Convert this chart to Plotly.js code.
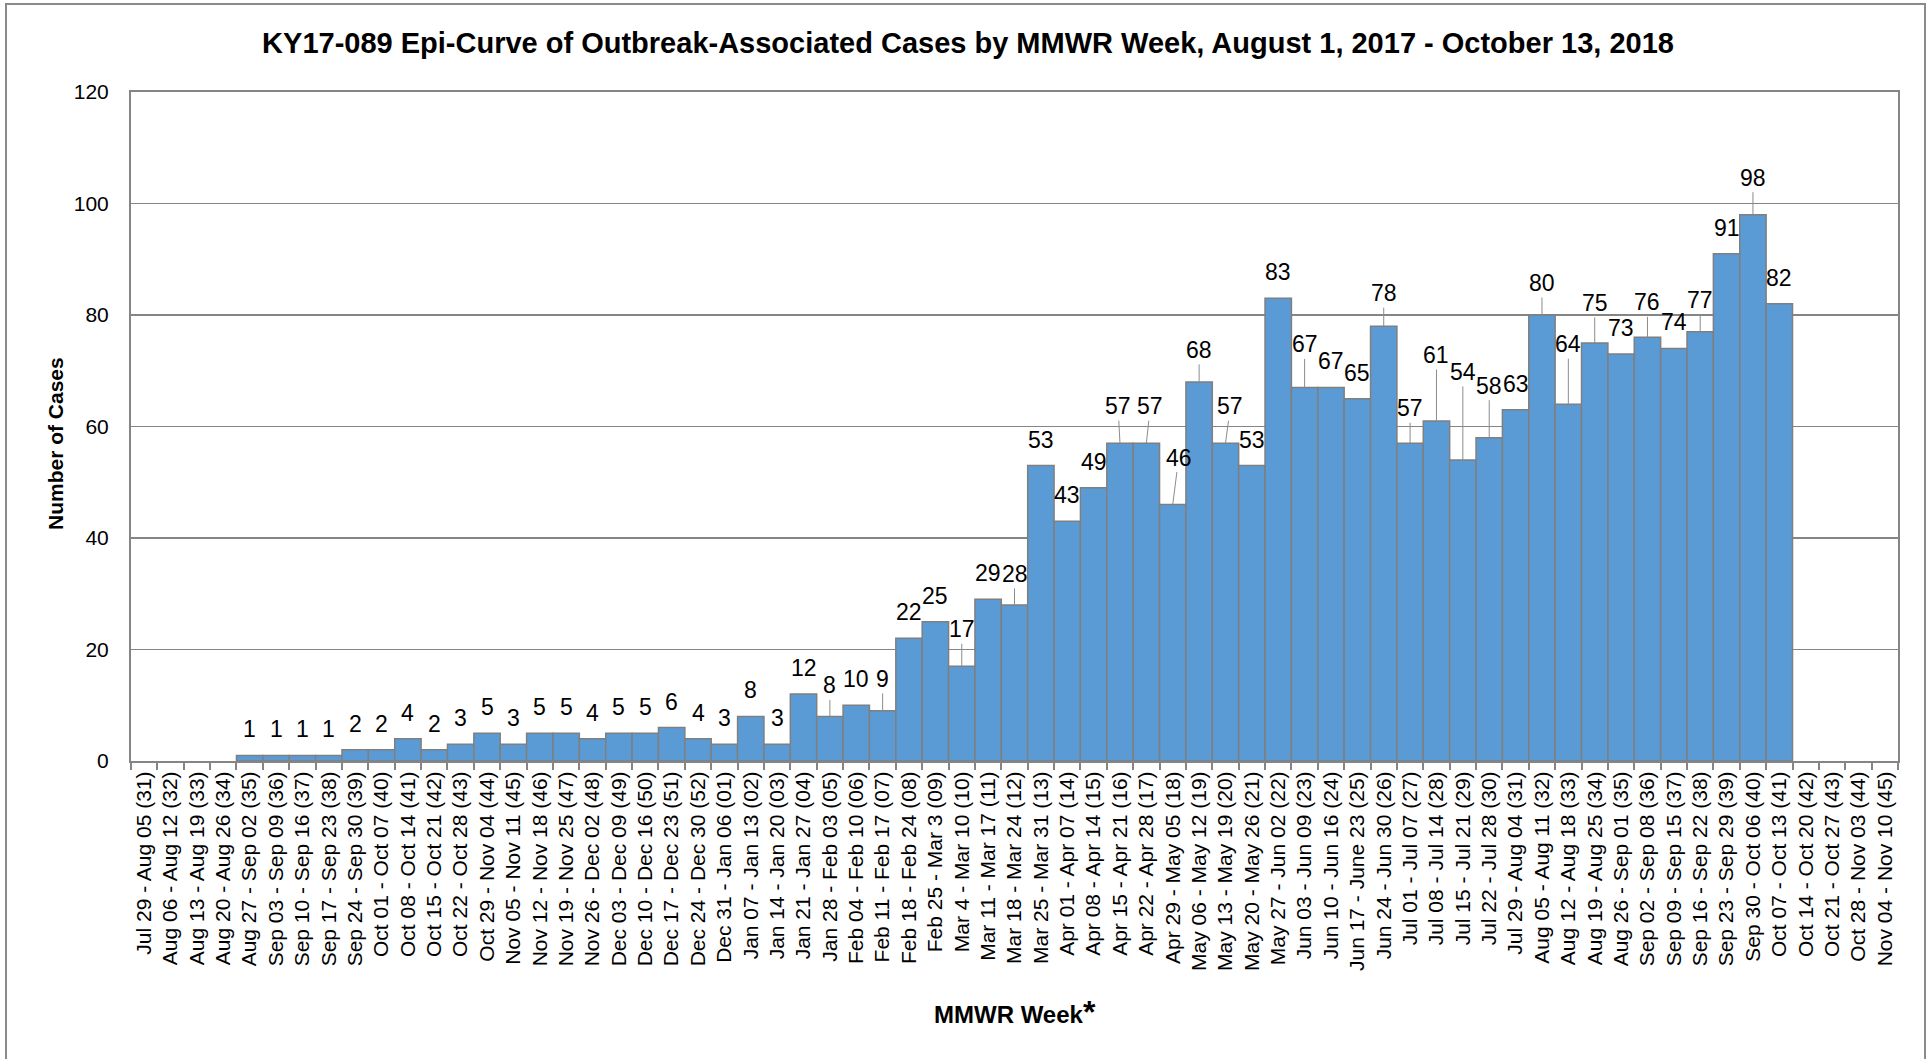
<!DOCTYPE html>
<html>
<head>
<meta charset="utf-8">
<script src="https://cdn.plot.ly/plotly-3.0.1.min.js"></script>
<style>
  html, body { margin: 0; padding: 0; background: #ffffff; }
  #chart { width: 1929px; height: 1059px; }
</style>
</head>
<body>
<div id="chart"></div>
<script>
// ---------------- DATA ----------------
const weekLabels = [
  "Jul 29 - Aug 05 (31)", "Aug 06 - Aug 12 (32)", "Aug 13 - Aug 19 (33)", "Aug 20 - Aug 26 (34)",
  "Aug 27 - Sep 02 (35)", "Sep 03 - Sep 09 (36)", "Sep 10 - Sep 16 (37)", "Sep 17 - Sep 23 (38)",
  "Sep 24 - Sep 30 (39)", "Oct 01 - Oct 07 (40)", "Oct 08 - Oct 14 (41)", "Oct 15 - Oct 21 (42)",
  "Oct 22 - Oct 28 (43)", "Oct 29 - Nov 04 (44)", "Nov 05 - Nov 11 (45)", "Nov 12 - Nov 18 (46)",
  "Nov 19 - Nov 25 (47)", "Nov 26 - Dec 02 (48)", "Dec 03 - Dec 09 (49)", "Dec 10 - Dec 16 (50)",
  "Dec 17 - Dec 23 (51)", "Dec 24 - Dec 30 (52)", "Dec 31 - Jan 06 (01)", "Jan 07 - Jan 13 (02)",
  "Jan 14 - Jan 20 (03)", "Jan 21 - Jan 27 (04)", "Jan 28 - Feb 03 (05)", "Feb 04 - Feb 10 (06)",
  "Feb 11 - Feb 17 (07)", "Feb 18 - Feb 24 (08)", "Feb 25 - Mar 3 (09)", "Mar 4 - Mar 10 (10)",
  "Mar 11 - Mar 17 (11)", "Mar 18 - Mar 24 (12)", "Mar 25 - Mar 31 (13)", "Apr 01 - Apr 07 (14)",
  "Apr 08 - Apr 14 (15)", "Apr 15 - Apr 21 (16)", "Apr 22 - Apr 28 (17)", "Apr 29 - May 05 (18)",
  "May 06 - May 12 (19)", "May 13 - May 19 (20)", "May 20 - May 26 (21)", "May 27 - Jun 02 (22)",
  "Jun 03 - Jun 09 (23)", "Jun 10 - Jun 16 (24)", "Jun 17 - June 23 (25)", "Jun 24 - Jun 30 (26)",
  "Jul 01 - Jul 07 (27)", "Jul 08 - Jul 14 (28)", "Jul 15 - Jul 21 (29)", "Jul 22 - Jul 28 (30)",
  "Jul 29 - Aug 04 (31)", "Aug 05 - Aug 11 (32)", "Aug 12 - Aug 18 (33)", "Aug 19 - Aug 25 (34)",
  "Aug 26 - Sep 01 (35)", "Sep 02 - Sep 08 (36)", "Sep 09 - Sep 15 (37)", "Sep 16 - Sep 22 (38)",
  "Sep 23 - Sep 29 (39)", "Sep 30 - Oct 06 (40)", "Oct 07 - Oct 13 (41)", "Oct 14 - Oct 20 (42)",
  "Oct 21 - Oct 27 (43)", "Oct 28 - Nov 03 (44)", "Nov 04 - Nov 10 (45)"
];

const cases2017 = [null, null, null, null, 1, 1, 1, 1, 2, 2, 4, 2, 3, 5, 3, 5, 5, 4, 5, 5, 6, 4];
const cases2018 = [3, 8, 3, 12, 8, 10, 9, 22, 25, 17, 29, 28, 53, 43, 49, 57, 57, 46, 68, 57,
                   53, 83, 67, 67, 65, 78, 57, 61, 54, 58, 63, 80, 64, 75, 73, 76, 74, 77, 91, 98,
                   82, null, null, null, null];
const cases = cases2017.concat(cases2018);

const yTickValues = [0, 20, 40, 60, 80, 100, 120];

const titleText = "KY17-089 Epi-Curve of Outbreak-Associated Cases by MMWR Week, August 1, 2017 - October 13, 2018";
const xTitleText = "MMWR Week";
const yTitleText = "Number of Cases";

// ---------------- STYLE ----------------
// label lift above bar top (px); entries are labels moved in the original, drawn with leader lines
const defaultLift = 26;
const movedLabels = {
  26: [0, 31], 28: [0, 32], 31: [0, 37], 33: [0, 31], 37: [-2, 37], 38: [4, 37], 39: [6, 47],
  40: [0, 32], 41: [5, 37], 44: [0, 43], 47: [0, 33], 48: [0, 35], 49: [0, 66], 50: [0, 88],
  51: [0, 52], 53: [0, 32], 54: [0, 60], 55: [0, 40], 57: [0, 35], 59: [0, 32], 61: [0, 37]
};

const FONT = "Liberation Sans, Arial, Helvetica, sans-serif";
const W = 1929, H = 1059;
const plotL = 131, plotR = 1898, plotT = 92, plotB = 761;
const grey = "#858585";

const px2x = p => (p - plotL) / (plotR - plotL);
const py2y = p => (plotB - p) / (plotB - plotT);

const annotations = [];
cases.forEach((v, i) => {
  if (v === null) return;
  const moved = movedLabels.hasOwnProperty(i);
  annotations.push({
    x: weekLabels[i], y: v, xref: "x", yref: "y",
    text: String(v),
    showarrow: true, arrowhead: 0, arrowwidth: 1, standoff: 0,
    arrowcolor: moved ? "#8c8c8c" : "rgba(0,0,0,0)",
    ax: moved ? movedLabels[i][0] : 0,
    ay: -(moved ? movedLabels[i][1] : defaultLift),
    font: { family: FONT, size: 23, color: "#000000" }
  });
});

// axis titles
annotations.push({
  xref: "paper", yref: "paper", x: px2x(55), y: py2y(444),
  text: "<b>" + yTitleText + "</b>", textangle: -90, showarrow: false,
  xanchor: "center", yanchor: "middle",
  font: { family: FONT, size: 21, color: "#000000" }
});
annotations.push({
  xref: "paper", yref: "paper", x: 0.5, y: py2y(1012),
  text: "<b>" + xTitleText + "</b><b><span style=\"font-size:32px\">*</span></b>",
  showarrow: false, xanchor: "center", yanchor: "middle",
  font: { family: FONT, size: 24, color: "#000000" }
});

const trace = {
  type: "bar",
  x: weekLabels,
  y: cases,
  marker: { color: "#5B9BD5", line: { color: "#7F7F7F", width: 1.5 } },
  hoverinfo: "x+y"
};

const layout = {
  width: W, height: H,
  margin: { l: plotL, r: W - plotR, t: plotT, b: H - plotB, pad: 0 },
  paper_bgcolor: "#ffffff",
  plot_bgcolor: "#ffffff",
  bargap: 0,
  showlegend: false,
  font: { family: FONT, color: "#000000" },
  title: {
    text: "<b>" + titleText + "</b>",
    font: { family: FONT, size: 29, color: "#000000" },
    x: 968 / W, xref: "container", xanchor: "center",
    y: 1 - 43 / H, yref: "container", yanchor: "middle"
  },
  xaxis: {
    type: "category",
    range: [-0.5, weekLabels.length - 0.5],
    tickangle: -90,
    tickfont: { family: FONT, size: 21, color: "#000000" },
    ticks: "outside", tickson: "boundaries", ticklen: 7, tickwidth: 2, tickcolor: grey,
    showgrid: false,
    showline: true, linecolor: grey, linewidth: 2, mirror: true,
    fixedrange: true
  },
  yaxis: {
    range: [0, 120],
    tickvals: yTickValues,
    ticktext: yTickValues.map(String),
    tickfont: { family: FONT, size: 21, color: "#000000" },
    ticks: "", ticklabelstandoff: 16,
    showgrid: true, gridcolor: grey, gridwidth: 1.5,
    zeroline: false,
    showline: true, linecolor: grey, linewidth: 2, mirror: true,
    fixedrange: true
  },
  annotations: annotations,
  shapes: [{
    type: "rect", xref: "paper", yref: "paper", layer: "below",
    x0: px2x(6), x1: px2x(1925), y0: py2y(1075), y1: py2y(4),
    line: { color: "#8a8a8a", width: 2 }, fillcolor: "rgba(0,0,0,0)"
  }]
};

Plotly.newPlot("chart", [trace], layout, { displayModeBar: false, staticPlot: true });
</script>
</body>
</html>
